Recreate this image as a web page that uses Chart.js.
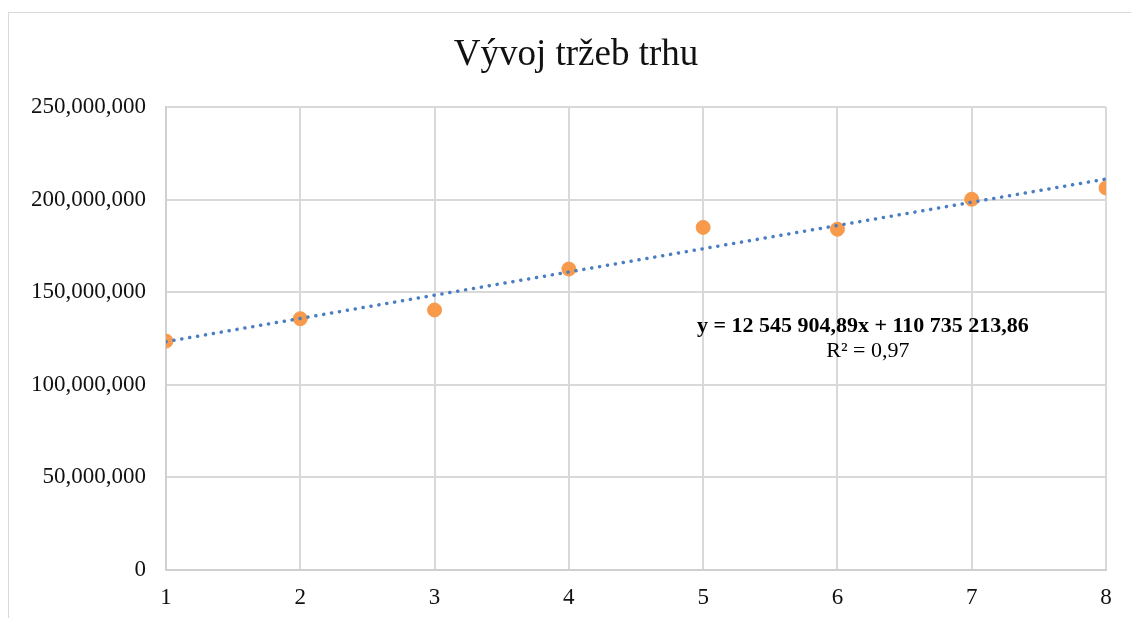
<!DOCTYPE html>
<html>
<head>
<meta charset="utf-8">
<script src="https://cdn.jsdelivr.net/npm/chart.js@4"></script>
<style>
  body { margin: 0; background: #fff; overflow: hidden; }
  .frame { position: absolute; left: 8px; top: 12px; width: 1140px; height: 620px; border: 1px solid #d9d9d9; }
  #chart { position: absolute; left: 0; top: 0; }
</style>
</head>
<body>
<div class="frame"></div>
<canvas id="chart" width="1131" height="618"></canvas>
<script>
// data
var years = [1, 2, 3, 4, 5, 6, 7, 8];
var revenue = [123600000, 135700000, 140400000, 162500000, 185000000, 184000000, 200200000, 206300000];
// trendline end points from y = 12 545 904,89x + 110 735 213,86
var trendX = [1, 8];
var trendY = [123281118.75, 211102453.09];
var titleText = "Vývoj tržeb trhu";
var equationText = "y = 12 545 904,89x + 110 735 213,86";
var r2Text = "R² = 0,97";
var yTicks = [0, 50000000, 100000000, 150000000, 200000000, 250000000];

var serif = "'Liberation Serif', 'Times New Roman', serif";

// title and trendline equation drawn as canvas text
var chartTexts = {
    id: 'chartTexts',
    afterDatasetsDraw: function(chart){
        var ctx = chart.ctx;
        ctx.save();
        ctx.fillStyle = '#111';
        ctx.textAlign = 'center';
        ctx.textBaseline = 'middle';
        ctx.font = "37px " + serif;
        ctx.fillText(titleText, 576, 55);

        var x = chart.scales.x.getPixelForValue(6.19);
        var y = chart.scales.y.getPixelForValue(131700000);
        ctx.fillStyle = '#000';
        ctx.font = "bold 22px " + serif;
        ctx.fillText(equationText, x, y);
        ctx.font = "22px " + serif;
        ctx.fillText(r2Text, x + 5, y + 25);
        ctx.restore();
    }
};

new Chart(document.querySelector('#chart'), {
    type: 'scatter',
    data: {
        datasets: [
            {
                label: 'Tržby',
                data: years.map(function(x, i){ return {x: x, y: revenue[i]}; }),
                backgroundColor: '#F79A4B',
                borderColor: '#F79A4B',
                pointRadius: 7,
                order: 1
            },
            {
                label: 'Trend',
                type: 'line',
                data: trendX.map(function(x, i){ return {x: x, y: trendY[i]}; }),
                borderColor: '#4A7EC2',
                borderWidth: 3.5,
                borderDash: [0.1, 7.9],
                borderCapStyle: 'round',
                pointRadius: 0,
                fill: false,
                order: 0
            }
        ]
    },
    options: {
        responsive: false,
        animation: false,
        layout: { padding: { left: 22, right: 25, top: 107, bottom: 0 } },
        plugins: {
            legend: { display: false },
            tooltip: { enabled: false },
            title: { display: false }
        },
        scales: {
            x: {
                type: 'linear',
                min: 1,
                max: 8,
                afterFit: function(axis){ axis.height = 48; },
                ticks: { stepSize: 1, color: '#111', font: { family: serif, size: 23 }, padding: 14 },
                grid: { color: '#d9d9d9', lineWidth: 2, drawTicks: false },
                border: { color: '#d0d0d0', width: 2 }
            },
            y: {
                min: 0,
                max: 250000000,
                afterFit: function(axis){ axis.width = 144; },
                afterBuildTicks: function(axis){
                    axis.ticks = yTicks.map(function(v){ return {value: v}; });
                },
                ticks: {
                    color: '#111',
                    font: { family: serif, size: 23 },
                    padding: 20,
                    callback: function(v){ return v.toLocaleString('en-US'); }
                },
                grid: { color: '#d9d9d9', lineWidth: 2, drawTicks: false },
                border: { color: '#d0d0d0', width: 2 }
            }
        }
    },
    plugins: [chartTexts]
});
</script>
</body>
</html>
